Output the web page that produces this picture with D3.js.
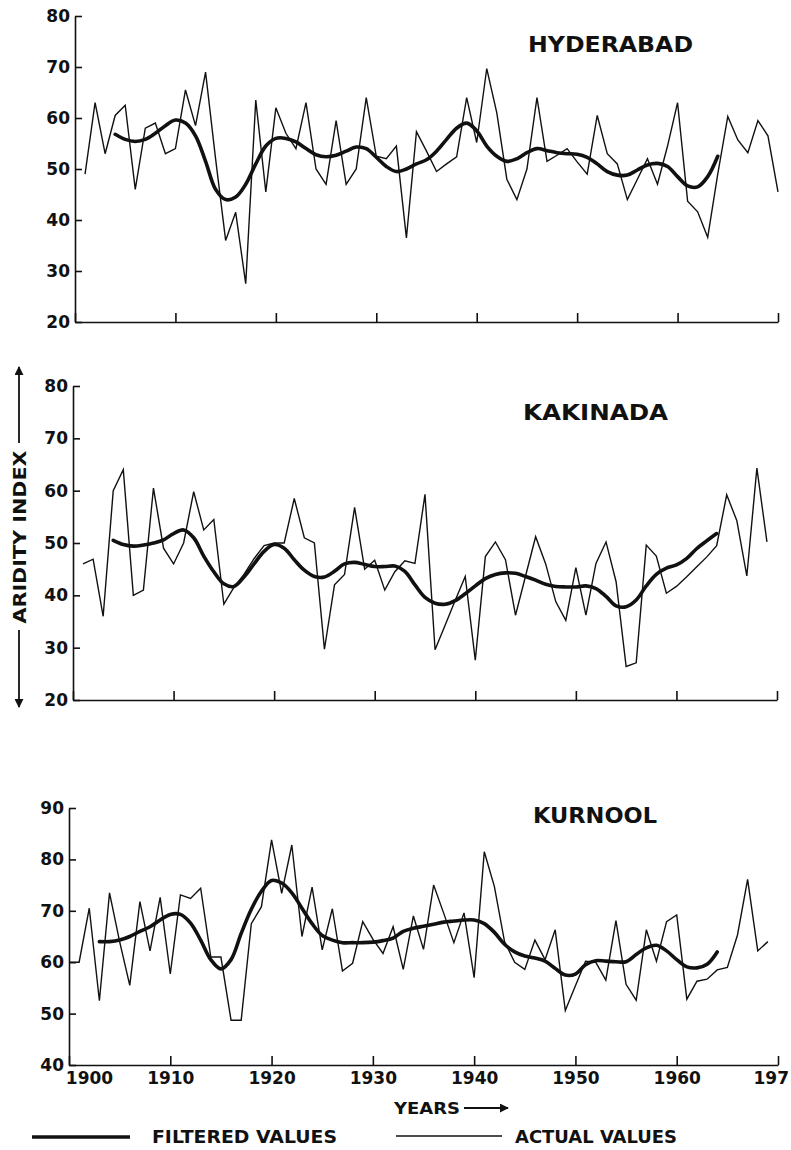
<!DOCTYPE html>
<html>
<head>
<meta charset="utf-8">
<script src="https://cdn.jsdelivr.net/npm/d3@7"></script>
<style>
  html, body { margin: 0; padding: 0; background: #fff; }
  svg text { font-family: "DejaVu Sans", sans-serif; font-weight: bold; fill: #111; }
</style>
</head>
<body>
<svg id="chart" width="791" height="1150"></svg>
<script>
// ---------------- DATA ----------------
const decadeTicks = [1900, 1910, 1920, 1930, 1940, 1950, 1960, 1970];
// the last label is cropped to "197" at the page edge in the original figure
const decadeLabels = ["1900", "1910", "1920", "1930", "1940", "1950", "1960", "197"];

const hyderabadTicks = [20, 30, 40, 50, 60, 70, 80];
const kakinadaTicks = [20, 30, 40, 50, 60, 70, 80];
const kurnoolTicks = [40, 50, 60, 70, 80, 90];

// Hyderabad actual values, 1901-1970
const hyderabadActualStart = 1901;
const hyderabadActual = [
  49, 63, 53, 60.5, 62.5, 46, 58, 59, 53, 54,
  65.5, 58.5, 69, 52, 36, 41.5, 27.5, 63.5, 45.5, 62,
  57, 54, 63, 50, 47, 59.5, 47, 50, 64, 52.5,
  52, 54.5, 36.5, 57.3, 53.5, 49.5, 51, 52.4, 64, 55.2,
  69.7, 61, 48, 44, 50, 64, 51.5, 52.7, 54, 51.4,
  49, 60.5, 53, 51, 44, 48, 52, 47, 54.5, 63,
  43.7, 41.6, 36.6, 49, 60.3, 55.7, 53.2, 59.5, 56.5, 45.5
];
// Hyderabad filtered values, 1904-1964
const hyderabadFilteredStart = 1904;
const hyderabadFiltered = [
  56.8, 55.8, 55.4, 55.8, 57, 58.5, 59.6,
  59, 56.5, 51.5, 46, 44, 44.5, 47, 51, 54.5, 56,
  56, 55.3, 54, 52.8, 52.4, 52.7, 53.5, 54.3, 54, 52.3,
  50.5, 49.5, 50, 51, 51.8, 53.5, 55.8, 58, 59, 57.5,
  54.5, 52.5, 51.5, 52, 53.2, 54, 53.6, 53.2, 53, 52.9,
  52.3, 51, 49.5, 48.8, 48.8, 49.8, 50.8, 51.1, 50.5, 48.5,
  46.7, 46.5, 48.5, 52.5
];

// Kakinada actual values, 1901-1969
const kakinadaActualStart = 1901;
const kakinadaActual = [
  46, 46.9, 36, 60, 64, 40, 41, 60.5, 49, 46,
  50, 59.8, 52.5, 54.5, 38.3, 41.5, 44, 47, 49.5, 50,
  50, 58.5, 51, 50, 29.7, 42, 44, 56.8, 45, 46.7,
  41, 44.5, 46.6, 46.1, 59.3, 29.6, 34.3, 39, 43.6, 27.6,
  47.4, 50.2, 46.8, 36.2, 43.7, 51.2, 46, 38.8, 35.2, 45.3,
  36.2, 46.1, 50.2, 42.6, 26.4, 27.1, 49.6, 47.5, 40.4, 41.7,
  43.5, 45.4, 47.3, 49.5, 59.2, 54.3, 43.7, 64.3, 50.2
];
// Kakinada filtered values, 1904-1964
const kakinadaFilteredStart = 1904;
const kakinadaFiltered = [
  50.5, 49.7, 49.4, 49.6, 50, 50.6, 51.8,
  52.5, 51, 47.5, 44.5, 42.2, 41.7, 43.5, 46, 48.4, 49.7,
  49, 46.8, 44.8, 43.6, 43.5, 44.6, 46, 46.3, 45.9, 45.5,
  45.5, 45.6, 44.6, 42, 39.6, 38.5, 38.3, 39, 40.3, 41.8,
  43.2, 44, 44.3, 44.2, 43.6, 42.9, 42.1, 41.7, 41.6, 41.6,
  41.8, 41.3, 39.8, 38, 37.8, 39.1, 41.8, 44, 45.2, 45.8,
  47, 48.9, 50.4, 51.8
];

// Kurnool actual values, 1900-1969
const kurnoolActualStart = 1900;
const kurnoolActual = [
  60, 60, 70.5, 52.5, 73.5, 64, 55.5, 71.8, 62.2, 72.6,
  57.7, 73.1, 72.4, 74.4, 61, 61, 48.7, 48.7, 67.5, 70.8,
  83.8, 73.4, 82.8, 65, 74.6, 62.4, 70.4, 58.3, 59.8, 67.9,
  64.5, 61.7, 66.9, 58.6, 69, 62.5, 75, 69.5, 63.8, 69.6,
  57, 81.5, 74.7, 64, 60, 58.6, 64.3, 60.5, 66.3, 50.6,
  55.4, 60.2, 60, 56.5, 68.1, 55.7, 52.6, 66.3, 60.2, 67.9,
  69.2, 52.8, 56.3, 56.7, 58.5, 59, 65.3, 76.1, 62.2, 64
];
// Kurnool filtered values, 1903-1964
const kurnoolFilteredStart = 1903;
const kurnoolFiltered = [
  64, 64, 64.3, 65, 66, 66.9, 68.2,
  69.3, 69.3, 67.6, 64.3, 60.5, 58.7, 60.5, 65.6, 70.3, 73.8,
  75.9, 75.4, 73.5, 70.5, 67.5, 65.2, 64.3, 63.8, 63.8, 63.8,
  63.9, 64.2, 64.7, 66, 66.6, 67, 67.4, 67.8, 68, 68.2,
  68.2, 67.5, 65.8, 63.5, 62, 61.2, 60.8, 60.2, 58.8, 57.5,
  57.7, 59.5, 60.3, 60.2, 60.1, 60.1, 61.5, 62.8, 63.3, 62.2,
  60.5, 59.1, 58.9, 59.6, 62
];

// ---------------- LAYOUT ----------------
const svg = d3.select("#chart");
svg.append("rect").attr("width", 791).attr("height", 1150).attr("fill", "#fff");

const panels = [
  { title: "HYDERABAD", titleX: 528, titleY: 52, titleLen: 165,
    x0: 75, x1: 778, yTop: 16, yBot: 322, domain: [20, 80], ticks: hyderabadTicks,
    actual: hyderabadActual, actualStart: hyderabadActualStart,
    filtered: hyderabadFiltered, filteredStart: hyderabadFilteredStart, labels: false },
  { title: "KAKINADA", titleX: 523, titleY: 420, titleLen: 145,
    x0: 73, x1: 777, yTop: 386, yBot: 700, domain: [20, 80], ticks: kakinadaTicks,
    actual: kakinadaActual, actualStart: kakinadaActualStart,
    filtered: kakinadaFiltered, filteredStart: kakinadaFilteredStart, labels: false },
  { title: "KURNOOL", titleX: 533, titleY: 823, titleLen: 124,
    x0: 69, x1: 778, yTop: 808, yBot: 1065, domain: [40, 90], ticks: kurnoolTicks,
    actual: kurnoolActual, actualStart: kurnoolActualStart,
    filtered: kurnoolFiltered, filteredStart: kurnoolFilteredStart, labels: true }
];

const ink = "#111";

panels.forEach(p => {
  const x = d3.scaleLinear().domain([1900, 1970]).range([p.x0, p.x1]);
  const y = d3.scaleLinear().domain(p.domain).range([p.yBot, p.yTop]);
  const g = svg.append("g");

  // y axis
  const yAxis = d3.axisLeft(y).tickValues(p.ticks).tickSizeInner(-7).tickSizeOuter(0).tickPadding(5);
  const gy = g.append("g").attr("transform", `translate(${p.x0},0)`).call(yAxis);
  gy.select(".domain").attr("stroke", ink).attr("stroke-width", 1.6);
  gy.selectAll(".tick line").attr("stroke", ink).attr("stroke-width", 1.6);
  gy.selectAll(".tick text").style("font-size", "17px").attr("fill", ink);

  // x axis
  const xAxis = d3.axisBottom(x).tickValues(decadeTicks).tickSizeInner(-9).tickSizeOuter(0).tickPadding(7)
    .tickFormat((d, i) => p.labels ? decadeLabels[i] : "");
  const gx = g.append("g").attr("transform", `translate(0,${p.yBot})`).call(xAxis);
  gx.select(".domain").attr("stroke", ink).attr("stroke-width", 1.6);
  gx.selectAll(".tick line").attr("stroke", ink).attr("stroke-width", 1.6);
  gx.selectAll(".tick text").style("font-size", "17px").attr("fill", ink)
    .attr("text-anchor", d => d === 1970 ? "start" : "middle")
    .attr("dx", d => d === 1900 ? 20 : (d === 1970 ? -25 : 0));

  // title
  g.append("text").attr("x", p.titleX).attr("y", p.titleY)
    .attr("textLength", p.titleLen).attr("lengthAdjust", "spacingAndGlyphs")
    .style("font-size", "22px").text(p.title);

  // actual line (thin)
  const actualData = p.actual.map((v, i) => ({ yr: p.actualStart + i, v }));
  const line = d3.line().x(d => x(d.yr)).y(d => y(d.v));
  g.append("path").datum(actualData).attr("d", line)
    .attr("fill", "none").attr("stroke", ink).attr("stroke-width", 1.4).attr("stroke-linejoin", "miter");

  // filtered line (thick, smooth)
  const filtData = p.filtered.map((v, i) => ({ yr: p.filteredStart + i, v }));
  const smooth = d3.line().x(d => x(d.yr)).y(d => y(d.v)).curve(d3.curveCatmullRom.alpha(0.5));
  g.append("path").datum(filtData).attr("d", smooth)
    .attr("fill", "none").attr("stroke", ink).attr("stroke-width", 3.6)
    .attr("stroke-linejoin", "round").attr("stroke-linecap", "round");
});

// ---------------- AXIS TITLES & LEGEND ----------------
const defs = svg.append("defs");
defs.append("marker").attr("id", "arrow").attr("viewBox", "0 0 10 10")
  .attr("refX", 9).attr("refY", 5).attr("markerWidth", 9).attr("markerHeight", 9)
  .attr("markerUnits", "userSpaceOnUse").attr("orient", "auto")
  .append("path").attr("d", "M0,0 L10,5 L0,10 z").attr("fill", ink);

// vertical y title with arrows
svg.append("text").attr("transform", "translate(26,537) rotate(-90)")
  .attr("text-anchor", "middle").attr("textLength", 173).attr("lengthAdjust", "spacingAndGlyphs")
  .style("font-size", "17px").text("ARIDITY INDEX");
svg.append("line").attr("x1", 19).attr("x2", 19).attr("y1", 443).attr("y2", 367)
  .attr("stroke", ink).attr("stroke-width", 1.8).attr("marker-end", "url(#arrow)");
svg.append("line").attr("x1", 19).attr("x2", 19).attr("y1", 630).attr("y2", 707)
  .attr("stroke", ink).attr("stroke-width", 1.8).attr("marker-end", "url(#arrow)");

// x title
svg.append("text").attr("x", 394).attr("y", 1114).attr("textLength", 66)
  .attr("lengthAdjust", "spacingAndGlyphs").style("font-size", "16px").text("YEARS");
svg.append("line").attr("x1", 464).attr("x2", 508).attr("y1", 1108).attr("y2", 1108)
  .attr("stroke", ink).attr("stroke-width", 2).attr("marker-end", "url(#arrow)");

// legend
svg.append("line").attr("x1", 32).attr("x2", 130).attr("y1", 1137).attr("y2", 1137)
  .attr("stroke", ink).attr("stroke-width", 3.6);
svg.append("text").attr("x", 152).attr("y", 1143).attr("textLength", 185)
  .attr("lengthAdjust", "spacingAndGlyphs").style("font-size", "17px").text("FILTERED VALUES");
svg.append("line").attr("x1", 396).attr("x2", 502).attr("y1", 1136).attr("y2", 1136)
  .attr("stroke", ink).attr("stroke-width", 1.4);
svg.append("text").attr("x", 515).attr("y", 1143).attr("textLength", 162)
  .attr("lengthAdjust", "spacingAndGlyphs").style("font-size", "17px").text("ACTUAL VALUES");
</script>
</body>
</html>
